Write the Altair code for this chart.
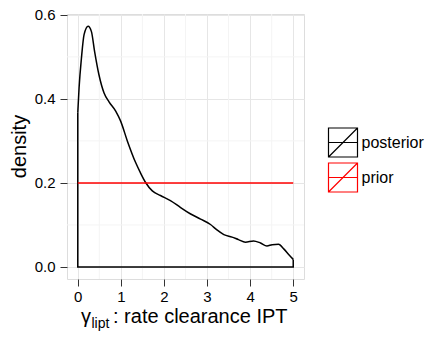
import altair as alt
import pandas as pd

# posterior density curve
post_x = [0, 0.03, 0.085, 0.146, 0.24, 0.317, 0.39, 0.49, 0.61, 0.725, 0.88, 0.995,
          1.15, 1.34, 1.45, 1.574, 1.73, 1.92, 2.15, 2.38, 2.62, 2.85, 3.08, 3.23, 3.39,
          3.58, 3.73, 3.89, 4.08, 4.24, 4.39, 4.51, 4.66, 4.78, 4.91, 5.0]
post_y = [0.367, 0.426, 0.497, 0.553, 0.573, 0.560, 0.513, 0.458, 0.414, 0.393, 0.371, 0.347,
          0.300, 0.249, 0.225, 0.201, 0.181, 0.170, 0.158, 0.142, 0.126, 0.114, 0.101, 0.088, 0.077,
          0.071, 0.065, 0.059, 0.062, 0.057, 0.050, 0.053, 0.054, 0.043, 0.028, 0.018]
# closing edges of the density polygon
edge_x = [5.0, 5.0, 0, 0]
edge_y = [0.018, 0, 0, 0.367]
prior_x = [0, 5]
prior_y = [0.2, 0.2]

series = ["posterior", "prior"]
colors = ["black", "red"]

x_ticks = [0, 1, 2, 3, 4, 5]
x_minor = [0.5, 1.5, 2.5, 3.5, 4.5]
y_ticks = [0.0, 0.2, 0.4, 0.6]
y_minor = [0.1, 0.3, 0.5]

curve_df = pd.DataFrame({"x": post_x, "y": post_y, "series": "posterior",
                         "i": list(range(len(post_x)))})
edge_df = pd.DataFrame({"x": edge_x, "y": edge_y, "series": "posterior",
                        "i": list(range(len(edge_x)))})
prior_df = pd.DataFrame({"x": prior_x, "y": prior_y, "series": "prior",
                         "i": list(range(len(prior_x)))})

FONT = "Liberation Sans"
W, H = 237, 265

xscale = alt.Scale(domain=[-0.25, 5.25], nice=False, zero=False)
yscale = alt.Scale(domain=[-0.0287, 0.602], nice=False, zero=False)
cscale = alt.Scale(domain=series, range=colors)

legend = alt.Legend(title=None, orient="none", legendX=260.5, legendY=113,
                    symbolType="M-1,-1H1V1H-1Z M-1,1L1,-1 M-1,0H1",
                    symbolSize=841, symbolStrokeWidth=1.2,
                    symbolFillColor="transparent",
                    labelFontSize=16, labelFont=FONT, labelColor="black",
                    labelOffset=3, rowPadding=0, padding=0, symbolOffset=0)

xaxis = alt.Axis(values=x_ticks, title=None, grid=True, gridColor="#E6E6E6",
                 domain=False, tickSize=7, tickColor="#333333", labelFontSize=15,
                 labelPadding=3, labelColor="black", labelFont=FONT, format="d")
yaxis = alt.Axis(values=y_ticks, title=None, grid=True, gridColor="#E6E6E6",
                 domain=False, tickSize=7, tickColor="#333333", labelFontSize=15,
                 labelPadding=5, labelColor="black", labelFont=FONT, format=".1f")

minor_x = alt.Chart(pd.DataFrame({"v": x_minor})).mark_rule(
    color="#F4F4F4", strokeWidth=1).encode(x=alt.X("v:Q", scale=xscale))
minor_y = alt.Chart(pd.DataFrame({"v": y_minor})).mark_rule(
    color="#F4F4F4", strokeWidth=1).encode(y=alt.Y("v:Q", scale=yscale))


def line_layer(data, interp):
    return alt.Chart(data).mark_line(strokeWidth=1.5, clip=False, interpolate=interp).encode(
        x=alt.X("x:Q", scale=xscale, axis=xaxis),
        y=alt.Y("y:Q", scale=yscale, axis=yaxis),
        color=alt.Color("series:N", scale=cscale, legend=legend),
        order="i:Q",
    )


curve = line_layer(curve_df, "monotone")
edges = line_layer(edge_df, "linear")
prior = line_layer(prior_df, "linear")

ytitle = alt.Chart(pd.DataFrame({"t": ["density"]})).mark_text(
    angle=270, fontSize=20, font=FONT, color="black", align="center", baseline="middle"
).encode(text="t:N", x=alt.value(-47), y=alt.value(H / 2))

gamma = alt.Chart(pd.DataFrame({"t": ["γ"]})).mark_text(
    fontSize=20, font=FONT, color="black", align="left", baseline="alphabetic"
).encode(text="t:N", x=alt.value(14), y=alt.value(309))
sub = alt.Chart(pd.DataFrame({"t": ["lipt"]})).mark_text(
    fontSize=14, font=FONT, color="black", align="left", baseline="alphabetic"
).encode(text="t:N", x=alt.value(24.5), y=alt.value(314))
rest = alt.Chart(pd.DataFrame({"t": [": rate clearance IPT"]})).mark_text(
    fontSize=20, font=FONT, color="black", align="left", baseline="alphabetic"
).encode(text="t:N", x=alt.value(46), y=alt.value(309))

chart = alt.layer(minor_x, minor_y, edges, curve, prior, ytitle, gamma, sub, rest).properties(
    width=W, height=H,
    autosize=alt.AutoSizeParams(type="none"),
    padding={"left": 67, "top": 14, "right": 429 - 67 - W, "bottom": 337 - 14 - H},
).configure_view(stroke="#7F7F7F", strokeWidth=1).configure(background="white")

chart.save("out.html", embed_options={"renderer": "svg", "actions": False})
